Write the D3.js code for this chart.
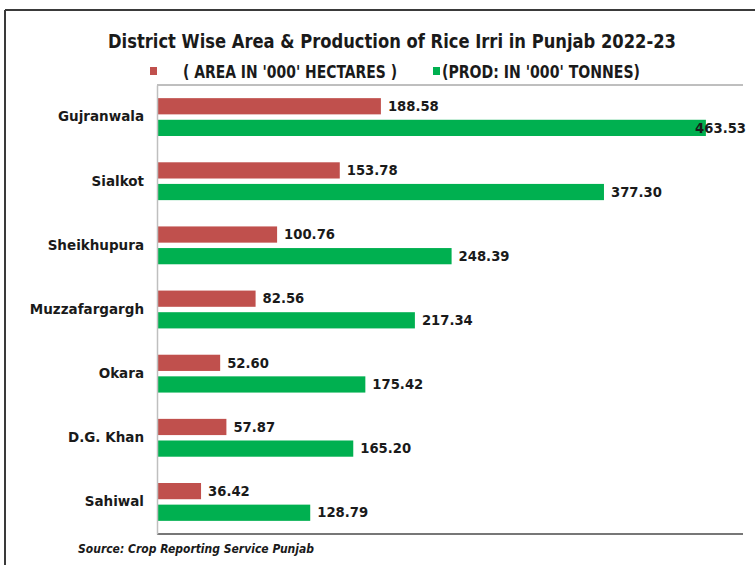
<!DOCTYPE html>
<html>
<head>
<meta charset="utf-8">
<script src="https://cdn.jsdelivr.net/npm/d3@7"></script>
<style>
  html, body { margin: 0; padding: 0; background: #fff; }
  svg { display: block; }
</style>
</head>
<body>
<svg id="chart" width="755" height="565"></svg>
<script>
const districts = ["Gujranwala", "Sialkot", "Sheikhupura", "Muzzafargargh", "Okara", "D.G. Khan", "Sahiwal"];
const areaValues = [188.58, 153.78, 100.76, 82.56, 52.60, 57.87, 36.42];
const prodValues = [463.53, 377.30, 248.39, 217.34, 175.42, 165.20, 128.79];
const seriesNames = ["( AREA IN '000' HECTARES )", "(PROD: IN '000' TONNES)"];
const titleText = "District Wise Area & Production of Rice Irri in Punjab 2022-23";
const sourceText = "Source: Crop Reporting Service Punjab";

const colors = { area: "#C0504D", prod: "#00B050" };
const svg = d3.select("#chart");

// outer frame (top and left visible)
svg.append("line").attr("x1", 5).attr("x2", 755).attr("y1", 10).attr("y2", 10)
  .attr("stroke", "#3a3a3a").attr("stroke-width", 2);
svg.append("line").attr("x1", 5).attr("x2", 5).attr("y1", 10).attr("y2", 565)
  .attr("stroke", "#3a3a3a").attr("stroke-width", 2);

const plot = { left: 157, right: 743, top: 85, bottom: 534 };

const x = d3.scaleLinear().domain([0, 500]).range([plot.left + 1, plot.left + 1 + 591]);
const y = d3.scaleBand().domain(districts).range([plot.top, plot.bottom])
  .paddingInner(0.41).paddingOuter(0.205);
const sub = d3.scaleBand().domain(["area", "prod"]).range([0, y.bandwidth()]).paddingInner(0.25);

const rows = districts.map((d, i) => ({ name: d, area: areaValues[i], prod: prodValues[i] }));

const narrowFont = "'DejaVu Sans Condensed', 'DejaVu Sans', sans-serif";

// title
svg.append("text").attr("x", 108).attr("y", 48)
  .attr("font-family", narrowFont)
  .attr("font-weight", "bold").attr("font-size", 19).attr("fill", "#1a1a1a")
  .attr("textLength", 568).attr("lengthAdjust", "spacingAndGlyphs")
  .text(titleText);

// legend
svg.append("rect").attr("x", 150).attr("y", 67).attr("width", 7).attr("height", 8).attr("fill", colors.area);
svg.append("text").attr("x", 183).attr("y", 78).attr("font-family", narrowFont)
  .attr("font-weight", "bold").attr("font-size", 17).attr("fill", "#1a1a1a")
  .attr("textLength", 214).attr("lengthAdjust", "spacingAndGlyphs").text(seriesNames[0]);
svg.append("rect").attr("x", 433).attr("y", 67).attr("width", 7).attr("height", 8).attr("fill", colors.prod);
svg.append("text").attr("x", 442).attr("y", 78).attr("font-family", narrowFont)
  .attr("font-weight", "bold").attr("font-size", 17).attr("fill", "#1a1a1a")
  .attr("textLength", 198).attr("lengthAdjust", "spacingAndGlyphs").text(seriesNames[1]);

// plot frame lines
svg.append("line").attr("x1", plot.left).attr("x2", plot.right).attr("y1", plot.top).attr("y2", plot.top)
  .attr("stroke", "#7f7f7f").attr("stroke-width", 1);
svg.append("line").attr("x1", plot.left).attr("x2", plot.right).attr("y1", plot.bottom).attr("y2", plot.bottom)
  .attr("stroke", "#777").attr("stroke-width", 2);

// bars
const g = svg.append("g");
const groups = g.selectAll("g.row").data(rows).join("g").attr("class", "row")
  .attr("transform", d => `translate(0,${y(d.name)})`);

["area", "prod"].forEach(key => {
  groups.append("rect")
    .attr("x", x(0)).attr("y", sub(key))
    .attr("width", d => x(d[key]) - x(0)).attr("height", sub.bandwidth())
    .attr("fill", colors[key]);
});

const valueFont = "'DejaVu Sans', Verdana, sans-serif";
["area", "prod"].forEach(key => {
  groups.append("text")
    .attr("font-family", valueFont).attr("font-weight", "bold").attr("font-size", 13.2)
    .attr("fill", "#1a1a1a").attr("dy", "0.36em")
    .attr("y", sub(key) + sub.bandwidth() / 2)
    .text(d => d[key].toFixed(2))
    .each(function(d) {
      const w = this.getComputedTextLength();
      let xx = x(d[key]) + 7;
      if (xx + w > 746) xx = 746 - w;
      d3.select(this).attr("x", xx);
    });
});

// category axis
const axis = d3.axisLeft(y).tickSize(0).tickPadding(13);
const ag = svg.append("g").attr("transform", `translate(${plot.left},0)`).call(axis);
ag.select(".domain").attr("stroke", "#bfbfbf").attr("stroke-width", 1.5);
ag.selectAll("text").attr("font-family", valueFont).attr("font-weight", "bold")
  .attr("font-size", 13.5).attr("fill", "#1a1a1a");

// source
svg.append("text").attr("x", 78).attr("y", 553)
  .attr("font-family", valueFont).attr("font-weight", "bold").attr("font-style", "italic")
  .attr("font-size", 11.5).attr("fill", "#1a1a1a")
  .attr("textLength", 236).attr("lengthAdjust", "spacingAndGlyphs").text(sourceText);
</script>
</body>
</html>
